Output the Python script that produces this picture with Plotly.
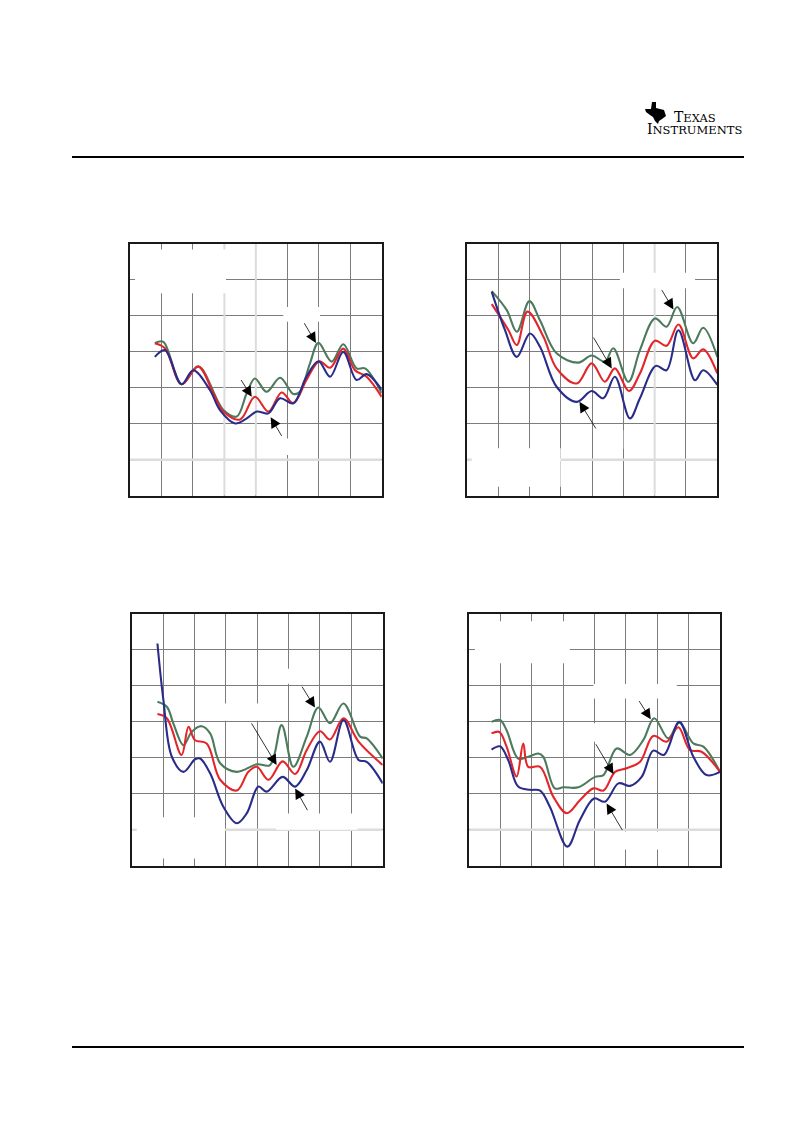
import plotly.graph_objects as go

W, H = 793, 1123          # browser page size
OFF = 8                   # default body margin of the html page
FW, FH = W - 2 * OFF, H - 2 * OFF

# ---------------- data (grid units: x 0..8, y 0..7) ----------------
C1_GREEN_X = [0.79, 1.06, 1.64, 2.17, 2.97, 3.39, 3.71, 3.97, 4.34, 4.77, 5.19, 5.40, 5.72, 5.99, 6.41, 6.78, 7.20, 7.47, 8.00]
C1_GREEN_Y = [4.24, 4.28, 3.10, 3.60, 2.38, 2.20, 2.85, 3.26, 2.89, 3.28, 2.83, 2.89, 3.68, 4.25, 3.73, 4.21, 3.54, 3.54, 2.85]
C1_RED_X = [0.79, 1.11, 1.64, 2.17, 2.65, 2.97, 3.50, 3.97, 4.40, 4.82, 5.19, 5.61, 6.02, 6.36, 6.78, 7.15, 7.52, 8.00]
C1_RED_Y = [4.24, 4.10, 3.10, 3.59, 2.85, 2.34, 2.12, 2.75, 2.34, 2.87, 2.57, 3.22, 3.74, 3.56, 4.09, 3.49, 3.31, 2.75]
C1_BLUE_X = [0.79, 1.11, 1.64, 2.01, 2.54, 2.86, 3.34, 3.71, 4.03, 4.40, 4.77, 5.19, 5.61, 5.99, 6.36, 6.78, 7.20, 7.52, 8.00]
C1_BLUE_Y = [3.86, 4.05, 3.10, 3.49, 2.94, 2.38, 2.01, 2.15, 2.34, 2.29, 2.71, 2.57, 3.31, 3.74, 3.31, 4.00, 3.22, 3.38, 2.94]

C2_GREEN_X = [0.80, 1.28, 1.60, 2.00, 2.34, 2.87, 3.56, 3.99, 4.41, 4.68, 5.16, 5.53, 6.01, 6.38, 6.72, 7.23, 7.55, 8.00]
C2_GREEN_Y = [5.69, 5.16, 4.56, 5.41, 4.88, 3.96, 3.70, 3.90, 3.73, 4.10, 3.17, 4.05, 4.93, 4.70, 5.25, 4.24, 4.67, 3.86]
C2_RED_X = [0.80, 1.33, 1.60, 1.94, 2.45, 2.87, 3.51, 3.99, 4.41, 4.73, 5.18, 5.53, 6.01, 6.38, 6.76, 7.23, 7.55, 8.00]
C2_RED_Y = [5.33, 4.61, 4.19, 5.12, 4.42, 3.54, 3.12, 3.68, 3.17, 3.54, 2.91, 3.40, 4.31, 4.17, 4.76, 3.82, 4.07, 3.40]
C2_BLUE_X = [0.80, 1.22, 1.60, 2.02, 2.34, 2.87, 3.51, 3.99, 4.36, 4.73, 5.21, 5.53, 6.04, 6.38, 6.76, 7.29, 7.55, 8.00]
C2_BLUE_Y = [5.67, 4.61, 3.86, 4.51, 4.14, 3.03, 2.61, 2.91, 2.71, 3.31, 2.15, 2.71, 3.61, 3.49, 4.60, 3.21, 3.49, 3.08]

C3_GREEN_X = [0.82, 1.12, 1.33, 1.65, 1.91, 2.23, 2.50, 2.82, 3.35, 3.99, 4.41, 4.78, 5.15, 5.58, 5.95, 6.32, 6.75, 7.28, 7.49, 8.00]
C3_GREEN_Y = [4.56, 4.42, 3.95, 3.35, 3.72, 3.88, 3.68, 2.85, 2.61, 2.82, 2.80, 3.91, 2.75, 3.59, 4.40, 3.96, 4.51, 3.59, 3.54, 2.98]
C3_RED_X = [0.82, 1.12, 1.59, 1.81, 2.02, 2.39, 2.82, 3.35, 3.72, 3.99, 4.36, 4.81, 5.21, 5.58, 6.00, 6.32, 6.75, 7.23, 8.00]
C3_RED_Y = [4.22, 4.10, 3.08, 3.86, 3.49, 3.40, 2.39, 2.09, 2.61, 2.75, 2.39, 2.90, 2.55, 3.22, 3.74, 3.51, 4.10, 3.45, 2.80]
C3_BLUE_X = [0.82, 1.01, 1.28, 1.65, 2.02, 2.18, 2.50, 2.92, 3.35, 3.67, 4.04, 4.30, 4.81, 5.21, 5.58, 6.00, 6.32, 6.75, 7.23, 7.49, 8.00]
C3_BLUE_Y = [6.18, 4.61, 3.03, 2.61, 2.96, 2.98, 2.57, 1.64, 1.18, 1.46, 2.20, 2.06, 2.47, 2.20, 2.66, 3.45, 2.89, 4.05, 2.94, 2.89, 2.29]

C4_GREEN_X = [0.71, 0.98, 1.19, 1.56, 1.88, 2.20, 2.36, 2.73, 3.00, 3.48, 4.01, 4.28, 4.70, 5.13, 5.55, 5.90, 6.35, 6.70, 7.15, 7.47, 8.00]
C4_GREEN_Y = [4.00, 4.05, 3.77, 2.98, 3.03, 3.12, 3.03, 2.15, 2.18, 2.18, 2.47, 2.52, 3.26, 3.08, 3.49, 4.10, 3.54, 3.98, 3.40, 3.31, 2.61]
C4_RED_X = [0.71, 0.96, 1.19, 1.51, 1.72, 1.88, 2.26, 2.68, 3.11, 3.53, 3.96, 4.28, 4.65, 5.02, 5.45, 5.87, 6.30, 6.67, 7.04, 7.41, 8.00]
C4_RED_Y = [3.68, 3.72, 3.31, 2.48, 3.40, 2.75, 2.75, 1.92, 1.46, 1.82, 2.15, 2.09, 2.61, 2.71, 2.89, 3.61, 3.45, 3.85, 3.22, 3.17, 2.61]
C4_BLUE_X = [0.71, 0.98, 1.24, 1.56, 1.94, 2.26, 2.57, 3.13, 3.53, 3.98, 4.33, 4.76, 5.13, 5.50, 5.87, 6.21, 6.70, 7.15, 7.57, 8.00]
C4_BLUE_Y = [3.23, 3.32, 2.94, 2.20, 2.11, 2.09, 1.64, 0.53, 1.27, 1.87, 1.78, 2.29, 2.22, 2.47, 3.20, 3.08, 4.00, 3.03, 2.52, 2.61]

# arrows: (tail_x, tail_y, tip_x, tip_y) in grid units
C1_ARROWS = [(5.51, 4.84, 5.91, 4.25), (3.50, 3.26, 3.87, 2.75), (4.85, 1.62, 4.47, 2.18)]
C2_ARROWS = [(6.20, 5.76, 6.60, 5.18), (4.02, 4.44, 4.63, 3.54), (4.15, 1.83, 3.60, 2.61)]
C3_ARROWS = [(5.40, 5.02, 5.84, 4.40), (3.79, 4.00, 4.62, 2.80), (5.63, 1.50, 5.21, 2.15)]
C4_ARROWS = [(5.39, 4.62, 5.79, 4.07), (4.01, 3.42, 4.60, 2.55), (4.91, 0.95, 4.38, 1.73)]

# faint (light grey) grid lines: (axis, value)
C1_LIGHT = [("x", 3), ("x", 4), ("y", 1)]
C2_LIGHT = [("x", 6), ("y", 1)]
C3_LIGHT = [("y", 1)]
C4_LIGHT = [("y", 1)]

# erased label areas (x0, x1, y0, y1) in grid units
C1_BLANKS = [(0.16, 3.05, 5.63, 6.85), (4.87, 6.04, 4.84, 5.25), (4.34, 5.40, 1.13, 1.59)]
C2_BLANKS = [(4.89, 7.29, 5.77, 6.20), (0.16, 3.00, 0.25, 1.32), (4.10, 5.00, 1.30, 1.82)]
C3_BLANKS = [(4.50, 5.95, 5.06, 5.48), (2.92, 4.52, 4.03, 4.51), (0.16, 2.97, 0.20, 1.35), (4.60, 7.20, 1.00, 1.45)]
C4_BLANKS = [(0.18, 3.21, 5.63, 6.80), (3.96, 6.62, 4.65, 5.05), (3.21, 4.86, 3.45, 3.96), (4.60, 6.40, 0.45, 0.95)]

COLORS = {"green": "#4d7a5c", "red": "#e2262b", "blue": "#2a2c8a"}

PANELS = [
    dict(box=(130.0, 381.7, 244.0, 495.7), series=[("green", C1_GREEN_X, C1_GREEN_Y), ("red", C1_RED_X, C1_RED_Y), ("blue", C1_BLUE_X, C1_BLUE_Y)], arrows=C1_ARROWS, blanks=C1_BLANKS, light=C1_LIGHT),
    dict(box=(466.7, 717.3, 244.0, 495.7), series=[("green", C2_GREEN_X, C2_GREEN_Y), ("red", C2_RED_X, C2_RED_Y), ("blue", C2_BLUE_X, C2_BLUE_Y)], arrows=C2_ARROWS, blanks=C2_BLANKS, light=C2_LIGHT),
    dict(box=(131.7, 382.7, 614.0, 865.7), series=[("green", C3_GREEN_X, C3_GREEN_Y), ("red", C3_RED_X, C3_RED_Y), ("blue", C3_BLUE_X, C3_BLUE_Y)], arrows=C3_ARROWS, blanks=C3_BLANKS, light=C3_LIGHT),
    dict(box=(469.3, 720.0, 614.0, 865.7), series=[("green", C4_GREEN_X, C4_GREEN_Y), ("red", C4_RED_X, C4_RED_Y), ("blue", C4_BLUE_X, C4_BLUE_Y)], arrows=C4_ARROWS, blanks=C4_BLANKS, light=C4_LIGHT),
]


def px(x):
    return (x - OFF) / FW


def py(y):
    return 1 - (y - OFF) / FH


fig = go.Figure()
shapes = []
annotations = []
layout_axes = {}

for i, p in enumerate(PANELS, start=1):
    x0, x1, y0, y1 = p["box"]
    xa = "x" if i == 1 else f"x{i}"
    ya = "y" if i == 1 else f"y{i}"
    common = dict(showgrid=True, gridcolor="#7c7c7c", gridwidth=1, dtick=1, tick0=0,
                  showline=True, linecolor="#1a1a1a", linewidth=1.5, mirror=True,
                  showticklabels=False, ticks="", zeroline=False, fixedrange=True)
    layout_axes[f"xaxis{i if i > 1 else ''}"] = dict(domain=[px(x0), px(x1)], range=[0, 8], anchor=ya, **common)
    layout_axes[f"yaxis{i if i > 1 else ''}"] = dict(domain=[py(y1), py(y0)], range=[0, 7], anchor=xa, **common)
    for name, xs, ys in p["series"]:
        fig.add_trace(go.Scatter(x=xs, y=ys, mode="lines", xaxis=xa, yaxis=ya, showlegend=False,
                                 line=dict(color=COLORS[name], width=2.1, shape="spline", smoothing=1.0),
                                 hoverinfo="skip"))
    for ax, v in p["light"]:
        if ax == "x":
            shapes.append(dict(type="line", xref=xa, yref=ya, x0=v, x1=v, y0=0, y1=7,
                               line=dict(color="#dcdcdc", width=2), layer="between"))
        else:
            shapes.append(dict(type="line", xref=xa, yref=ya, x0=0, x1=8, y0=v, y1=v,
                               line=dict(color="#dcdcdc", width=2.5), layer="between"))
    for bx0, bx1, by0, by1 in p["blanks"]:
        shapes.append(dict(type="rect", xref=xa, yref=ya, x0=bx0, x1=bx1, y0=by0, y1=by1,
                           fillcolor="white", line=dict(width=0), layer="between"))
    for tx, ty, hx, hy in p["arrows"]:
        annotations.append(dict(x=hx, y=hy, ax=tx, ay=ty, xref=xa, yref=ya, axref=xa, ayref=ya,
                                text="", showarrow=True, arrowhead=2, arrowsize=2.6,
                                arrowwidth=0.8, arrowcolor="black"))

# page rules
shapes.append(dict(type="line", xref="paper", yref="paper", x0=px(72), x1=px(744), y0=py(157), y1=py(157),
                   line=dict(color="black", width=2)))
shapes.append(dict(type="line", xref="paper", yref="paper", x0=px(72), x1=px(744), y0=py(1047), y1=py(1047),
                   line=dict(color="black", width=2)))

# Texas state glyph (logo)
tex = [(652, 102), (656, 102), (656, 108), (664, 110), (666, 116), (662, 119), (659, 121), (658, 124),
       (655, 121), (653, 117), (650, 115), (646, 112), (645, 109), (651, 109)]
path = "M " + " L ".join(f"{px(a):.5f},{py(b):.5f}" for a, b in tex) + " Z"
shapes.append(dict(type="path", xref="paper", yref="paper", path=path, fillcolor="black", line=dict(width=0)))

annotations.append(dict(x=px(672), y=py(127), xref="paper", yref="paper", xanchor="left", yanchor="bottom",
                        showarrow=False,
                        text="T<span style='font-size:11.5px'>EXAS</span>",
                        font=dict(family="DejaVu Serif", size=14, color="black")))
annotations.append(dict(x=px(645), y=py(139), xref="paper", yref="paper", xanchor="left", yanchor="bottom",
                        showarrow=False,
                        text="I<span style='font-size:11.5px'>NSTRUMENTS</span>",
                        font=dict(family="DejaVu Serif", size=14, color="black")))

fig.update_layout(width=FW, height=FH, margin=dict(l=0, r=0, t=0, b=0),
                  paper_bgcolor="white", plot_bgcolor="white",
                  shapes=shapes, annotations=annotations, **layout_axes)

fig.write_html("out.html")
